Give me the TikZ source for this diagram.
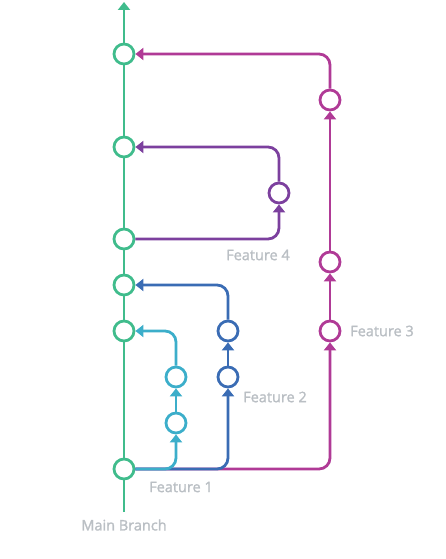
\documentclass[tikz,border=0pt]{standalone}
\usepackage{fontspec}
\setmainfont{Open Sans}
\newfontfamily\labelfont[FakeBold=1.6]{Open Sans}
\usetikzlibrary{positioning,arrows.meta}

\definecolor{mainGreen}{RGB}{64,188,140}
\definecolor{featCyan}{RGB}{60,174,202}
\definecolor{featBlue}{RGB}{58,108,180}
\definecolor{featMagenta}{RGB}{176,58,150}
\definecolor{featPurple}{RGB}{124,64,158}
\definecolor{labelGray}{RGB}{186,191,196}

\begin{document}
\begin{tikzpicture}[x=1pt, y=-1pt, >={Triangle[width=12pt,length=8pt]}]

    %
    % Styles for commits, branch lines and labels
    %
    \tikzstyle{commit} = [circle, line width=2.8pt, minimum size=20pt, inner sep=0pt, fill=white]
    \tikzstyle{branchLine} = [line width=2.8pt, rounded corners=11pt]
    \tikzstyle{branchName} = [text=labelGray, font={\labelfont\fontsize{14.5}{17}\selectfont}]

    \useasboundingbox (0,0) rectangle (446,559);

    %
    % Position commits
    %
    \node[commit, draw=mainGreen, name=m1] at (124,469) {};
    \node[commit, draw=mainGreen, name=m2] at (124,331) {};
    \node[commit, draw=mainGreen, name=m3] at (124,285) {};
    \node[commit, draw=mainGreen, name=m4] at (124,239) {};
    \node[commit, draw=mainGreen, name=m5] at (124,147) {};
    \node[commit, draw=mainGreen, name=m6] at (124,54) {};
    \coordinate (mainStart) at (124,512);
    \coordinate (mainEnd) at (124,2);

    \node[commit, draw=featCyan, name=fa1] at (176,423) {};
    \node[commit, draw=featCyan, name=fa2] at (176,377) {};

    \node[commit, draw=featBlue, name=fb1] at (228,377) {};
    \node[commit, draw=featBlue, name=fb2] at (228,331) {};

    \node[commit, draw=featMagenta, name=fc1] at (330,331) {};
    \node[commit, draw=featMagenta, name=fc2] at (330,262) {};
    \node[commit, draw=featMagenta, name=fc3] at (330,100) {};

    \node[commit, draw=featPurple, name=fd1] at (279,193) {};

    %
    % Labels
    %
    \node[branchName, name=mainLabel] at (124,525) {Main Branch};
    \node[branchName, name=featA] at (181,487) {Feature 1};
    \node[branchName, name=featB] at (275,397) {Feature 2};
    \node[branchName, name=featC] at (382,331) {Feature 3};
    \node[branchName, name=featD] at (258,255) {Feature 4};

    %
    % Connect commits via branch lines
    %
    \draw[branchLine, mainGreen, ->] (mainStart) -- (m1) -- (m2) -- (m3) -- (m4) -- (m5) -- (m6) -- (mainEnd);

    \draw[branchLine, featMagenta, ->] (m1) -| (fc1);
    \draw[branchLine, featMagenta, ->] (fc1) -- (fc2);
    \draw[branchLine, featMagenta, ->] (fc2) -- (fc3);
    \draw[branchLine, featMagenta, ->] (fc3) |- (m6);

    \draw[branchLine, featBlue, ->] (m1) -| (fb1);
    \draw[branchLine, featBlue, ->] (fb1) -- (fb2);
    \draw[branchLine, featBlue, ->] (fb2) |- (m3);

    \draw[branchLine, featCyan, ->] (m1) -| (fa1);
    \draw[branchLine, featCyan, ->] (fa1) -- (fa2);
    \draw[branchLine, featCyan, ->] (fa2) |- (m2);

    \draw[branchLine, featPurple, ->] (m4) -| (fd1);
    \draw[branchLine, featPurple, ->] (fd1) |- (m5);
  \end{tikzpicture}
\end{document}
